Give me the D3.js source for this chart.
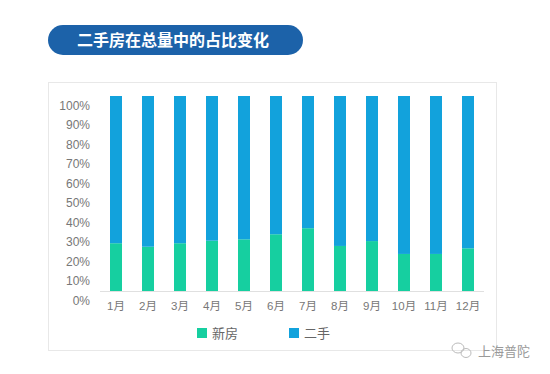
<!DOCTYPE html>
<html>
<head>
<meta charset="utf-8">
<script src="https://cdn.jsdelivr.net/npm/d3@7"></script>
<style>
  html, body { margin: 0; padding: 0; background: #fff; }
  svg { display: block; font-family: "Liberation Sans", "Noto Sans CJK SC", sans-serif; }
</style>
</head>
<body>
<svg id="chart" width="550" height="374"></svg>
<script>
// 100% stacked bars: share of new homes vs second-hand homes by month.
const months = ["1月", "2月", "3月", "4月", "5月", "6月", "7月", "8月", "9月", "10月", "11月", "12月"];
const newShare = [24.5, 22.7, 24.5, 25.8, 26.5, 29.1, 32.2, 23.1, 25.6, 19.0, 19.0, 21.9];
const usedShare = newShare.map(v => 100 - v);
const seriesNames = ["新房", "二手"];
const seriesColors = ["#16cfa0", "#12a2dc"];
const yTicks = [0, 10, 20, 30, 40, 50, 60, 70, 80, 90, 100];

const svg = d3.select("#chart");

// title pill
svg.append("rect")
  .attr("x", 48).attr("y", 25)
  .attr("width", 255).attr("height", 30)
  .attr("rx", 15)
  .attr("fill", "#1c62a9");

svg.append("text")
  .attr("x", 173).attr("y", 40)
  .attr("dy", "0.35em")
  .attr("text-anchor", "middle")
  .attr("fill", "#fff")
  .attr("font-size", 16)
  .attr("font-weight", "bold")
  .attr("font-family", "'Noto Sans CJK SC', sans-serif")
  .text("二手房在总量中的占比变化");

// chart frame
svg.append("rect")
  .attr("x", 48.5).attr("y", 82.5)
  .attr("width", 448).attr("height", 268)
  .attr("fill", "#fff")
  .attr("stroke", "#e8e8e8");

const x = d3.scaleBand()
  .domain(months)
  .range([100, 484])
  .paddingInner(0.625)
  .paddingOuter(0.3125);

const y = d3.scaleLinear()
  .domain([0, 100])
  .range([291, 96]);

const stacked = d3.stack().keys([0, 1])(
  months.map((m, i) => ({ month: m, 0: newShare[i], 1: usedShare[i] }))
);

svg.append("g")
  .selectAll("g")
  .data(stacked)
  .join("g")
  .attr("fill", (d, i) => seriesColors[i])
  .selectAll("rect")
  .data(d => d)
  .join("rect")
  .attr("x", d => x(d.data.month))
  .attr("y", d => y(d[1]))
  .attr("width", x.bandwidth())
  .attr("height", d => y(d[0]) - y(d[1]));

// baseline
svg.append("line")
  .attr("x1", 100).attr("x2", 484)
  .attr("y1", 291.5).attr("y2", 291.5)
  .attr("stroke", "#e0e0e0");

// y axis labels (sit a little below the bar scale, as in the original)
const yAxis = svg.append("g")
  .attr("transform", "translate(90,9.5)")
  .call(d3.axisLeft(y).tickValues(yTicks).tickFormat(d => d + "%").tickSize(0).tickPadding(0));
yAxis.select(".domain").remove();
yAxis.selectAll("text")
  .attr("fill", "#777")
  .attr("font-size", 12)
  .attr("font-family", "'Liberation Sans', sans-serif");

// x axis labels
const xAxis = svg.append("g")
  .attr("transform", "translate(0,299)")
  .call(d3.axisBottom(x).tickSize(0).tickPadding(0));
xAxis.select(".domain").remove();
xAxis.selectAll("text")
  .attr("fill", "#777")
  .attr("font-size", 11.5)
  .attr("dy", "0.35em")
  .attr("y", 7)
  .attr("font-family", "'Liberation Sans', 'Noto Sans CJK SC', sans-serif");

// legend
const legendX = [197, 289];
const legend = svg.append("g")
  .selectAll("g")
  .data(seriesNames)
  .join("g")
  .attr("transform", (d, i) => `translate(${legendX[i]},328)`);

legend.append("rect")
  .attr("width", 10).attr("height", 10)
  .attr("fill", (d, i) => seriesColors[i]);

legend.append("text")
  .attr("x", 15).attr("y", 5)
  .attr("dy", "0.35em")
  .attr("fill", "#666")
  .attr("font-size", 13)
  .attr("font-family", "'Noto Sans CJK SC', sans-serif")
  .text(d => d);

// watermark
const wm = svg.append("g").attr("fill", "none").attr("stroke", "#bbb").attr("stroke-width", 1);
wm.append("ellipse").attr("cx", 458).attr("cy", 348).attr("rx", 6).attr("ry", 5);
wm.append("ellipse").attr("cx", 466).attr("cy", 353).attr("rx", 5).attr("ry", 4.5);

svg.append("text")
  .attr("x", 478).attr("y", 351)
  .attr("dy", "0.35em")
  .attr("fill", "#999")
  .attr("font-size", 13)
  .attr("font-family", "'Noto Sans CJK SC', sans-serif")
  .text("上海普陀");
</script>
</body>
</html>
